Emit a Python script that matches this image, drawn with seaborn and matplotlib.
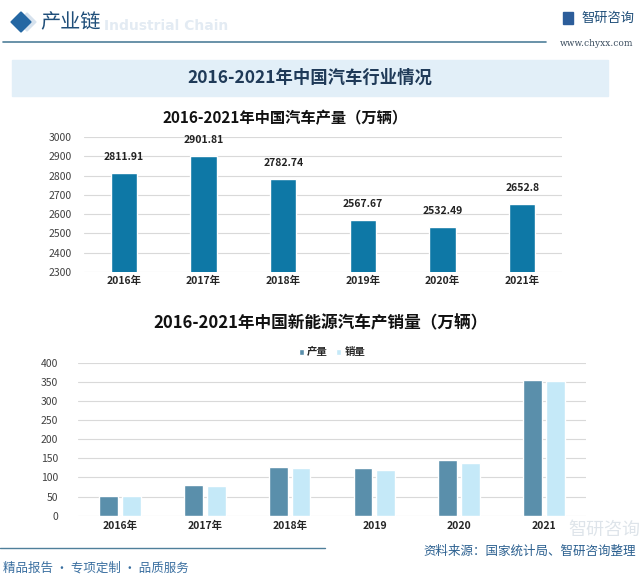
import pandas as pd
import matplotlib.pyplot as plt
import matplotlib.patches as mpatches
import seaborn as sns

years = ["2016年", "2017年", "2018年", "2019年", "2020年", "2021年"]
car_output = [2811.91, 2901.81, 2782.74, 2567.67, 2532.49, 2652.8]

nev_years = ["2016年", "2017年", "2018年", "2019", "2020", "2021"]
nev_output = [51.7, 79.4, 127.0, 124.2, 145.6, 354.5]
nev_sales = [50.7, 77.7, 125.6, 120.6, 136.7, 352.1]

sns.set_theme(style="white")
plt.rcParams['font.family'] = ['Noto Sans CJK SC', 'DejaVu Sans']

W, H = 640, 581
fig = plt.figure(figsize=(6.4, 5.81), dpi=100)
fig.patch.set_facecolor("white")

def px(x, y):
    return x / W, 1 - y / H

# header
fig.patches.append(mpatches.Polygon([px(27, 13), px(36, 22), px(27, 31), px(18, 22)], closed=True,
                                    transform=fig.transFigure, color="#d6e2ee", zorder=1))
fig.patches.append(mpatches.Polygon([px(21, 12), px(31, 22), px(21, 32), px(11, 22)], closed=True,
                                    transform=fig.transFigure, color="#2467a3", zorder=2))
fig.text(*px(104, 26), "Industrial Chain", fontsize=10, fontweight="bold", color="#e3ebf3",
         ha="left", va="center", family="DejaVu Sans")
fig.text(*px(40, 23), "产业链", fontsize=14.5, color="#1f4e79", ha="left", va="center")
fig.lines.append(plt.Line2D([3 / W, 546 / W], [1 - 42 / H] * 2, transform=fig.transFigure,
                            color="#4f7f9a", lw=1.2))
fig.text(*px(634, 18), "智研咨询", fontsize=9.5, color="#1f4e79", ha="right", va="center")
fig.patches.append(mpatches.Rectangle(px(563, 24), 10 / W, 12 / H, transform=fig.transFigure,
                                      color="#2c5d9a"))
fig.text(*px(633, 43), "www.chyxx.com", fontsize=6.5, color="#3c4e60", ha="right", va="center",
         family="DejaVu Serif")

# banner
fig.patches.append(mpatches.Rectangle(px(12, 96), (608 - 12) / W, 36 / H, transform=fig.transFigure,
                                      color="#e2eff8", zorder=0))
fig.text(*px(310, 78), "2016-2021年中国汽车行业情况", fontsize=12.5, fontweight="bold",
         color="#1f3a58", ha="center", va="center")

# top chart
df_top = pd.DataFrame({"year": years, "value": car_output})
ax1 = fig.add_axes([84 / W, 1 - 272 / H, (562 - 84) / W, (272 - 137) / H])
sns.barplot(data=df_top, x="year", y="value", color="#0e78a6", saturation=1, width=0.33, ax=ax1)
ax1.set_ylim(2300, 3000)
ax1.set_yticks(range(2300, 3001, 100))
ax1.yaxis.grid(True, color="#d9d9d9", lw=0.8)
ax1.set_axisbelow(True)
sns.despine(ax=ax1, left=True, bottom=True)
ax1.set_xlabel("")
ax1.set_ylabel("")
ax1.tick_params(axis="y", labelsize=7.5, colors="#404040", pad=9, length=0)
ax1.tick_params(axis="x", labelsize=7.5, pad=3, length=0)
for t in ax1.get_xticklabels():
    t.set_fontweight("bold")
for c in ax1.containers:
    ax1.bar_label(c, labels=[f"{v:g}" for v in car_output], padding=8, fontsize=7.5,
                  fontweight="bold", color="#222222")
ax1.set_title("2016-2021年中国汽车产量（万辆）", fontsize=11, fontweight="bold", color="#111111",
              pad=10, x=0.42)

# bottom chart
df_bot = pd.DataFrame({
    "year": nev_years * 2,
    "value": nev_output + nev_sales,
    "kind": ["产量"] * 6 + ["销量"] * 6,
})
ax2 = fig.add_axes([77.6 / W, 1 - 515.7 / H, (586.4 - 77.6) / W, (515.7 - 362.7) / H])
sns.barplot(data=df_bot, x="year", y="value", hue="kind", palette=["#5a8fab", "#c5e9f8"],
            saturation=1, width=0.54, gap=0.18, ax=ax2)
ax2.set_ylim(0, 400)
ax2.set_yticks(range(0, 401, 50))
ax2.yaxis.grid(True, color="#d9d9d9", lw=0.8)
ax2.set_axisbelow(True)
sns.despine(ax=ax2, left=True, bottom=True)
ax2.set_xlabel("")
ax2.set_ylabel("")
ax2.tick_params(axis="y", labelsize=7.5, colors="#404040", pad=14, length=0)
ax2.tick_params(axis="x", labelsize=7.5, pad=4, length=0)
for t in ax2.get_xticklabels():
    t.set_fontweight("bold")
leg = ax2.legend(loc="lower center", bbox_to_anchor=(0.5, 1.0), ncol=2, frameon=False,
                 fontsize=7.5, handlelength=0.5, handleheight=0.5, handletextpad=0.3,
                 columnspacing=0.8, borderaxespad=0.1)
for t in leg.get_texts():
    t.set_fontweight("bold")
fig.text(*px(320, 323), "2016-2021年中国新能源汽车产销量（万辆）", fontsize=12, fontweight="bold",
         color="#111111", ha="center", va="center")

# watermark and footer
fig.text(*px(604, 530), "智研咨询", fontsize=13, color="#c9d3dc", ha="center", va="center",
         alpha=0.6, zorder=0)
fig.lines.append(plt.Line2D([0, 325 / W], [1 - 548 / H] * 2, transform=fig.transFigure,
                            color="#4f7f9a", lw=1.0))
fig.text(*px(3, 568), "精品报告 · 专项定制 · 品质服务", fontsize=9, color="#3a6fa0",
         ha="left", va="center")
fig.text(*px(636, 551), "资料来源：国家统计局、智研咨询整理", fontsize=9, color="#2a5f8f",
         ha="right", va="center")

fig.savefig("out.png", dpi=100)
